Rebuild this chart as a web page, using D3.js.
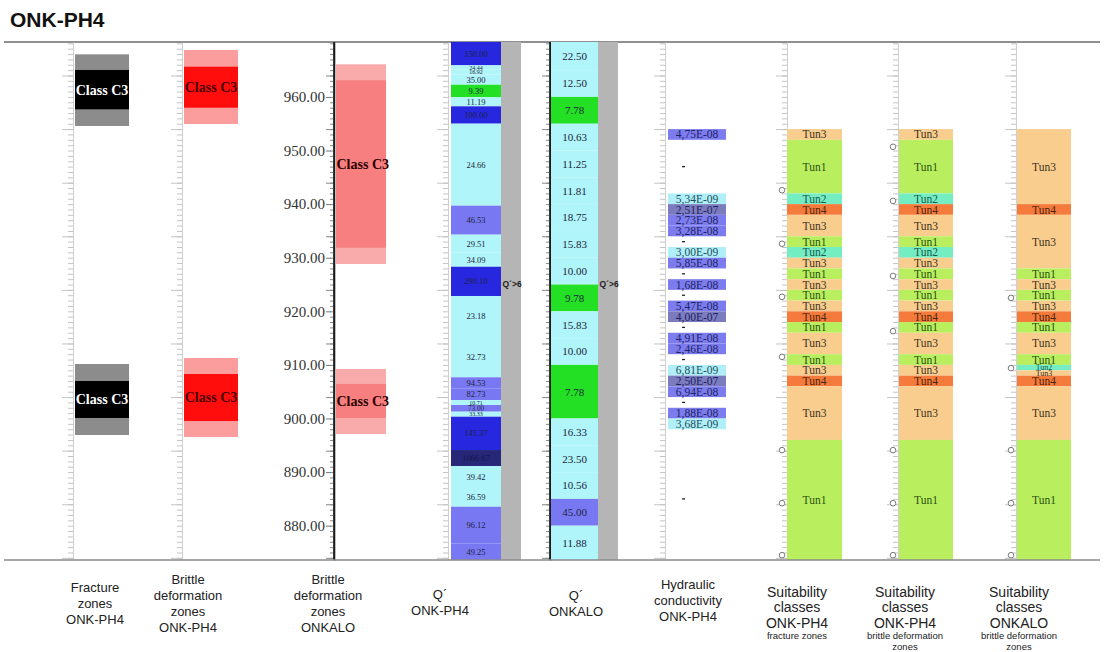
<!DOCTYPE html>
<html>
<head>
<meta charset="utf-8">
<script src="https://cdn.jsdelivr.net/npm/d3@7"></script>
<style>
  body { margin: 0; background: #fff; }
  svg { display: block; }
</style>
</head>
<body>
<svg id="chart" width="1104" height="652"></svg>
<script>
// ---- depth window (m) and labelled depth ticks ----
const depthRange = [873.6, 970.25];
const depthTicks = [960, 950, 940, 930, 920, 910, 900, 890, 880];

// ---- zone intervals [top, bottom] in m ----
const fractureOuter = [[967.95, 954.58], [910.17, 896.92]];
const fractureCore = [[965.03, 957.69], [907.0, 900.1]];
const bdzPh4Outer = [[968.76, 954.95], [911.29, 896.55]];
const bdzPh4Core = [[965.64, 957.99], [908.3, 899.53]];
const bdzOnkaloOuter = [[966.09, 928.83], [909.24, 897.11]];
const bdzOnkaloCore = [[963.1, 931.87], [906.45, 900.1]];
const zoneClass = ["Class C3", "Class C3"];

// ---- Q' ONK-PH4: interval boundaries and values ----
const qPh4Bounds = [970.25, 965.90, 965.1, 964.2, 962.28, 959.93, 958.25, 955.01, 939.71, 934.30,
  930.94, 928.32, 922.86, 915.21, 907.69, 905.64, 903.45, 902.52, 901.27, 900.34,
  894.12, 891.14, 887.03, 883.54, 876.71, 873.6];
const qPh4Values = [150.00, 24.44, 16.92, 35.00, 9.39, 11.19, 100.00, 24.66, 46.53, 29.51,
  34.09, 290.10, 23.18, 32.73, 94.53, 82.73, 10.71, 73.00, 33.33, 145.37,
  1066.67, 39.42, 36.59, 96.12, 49.25];

// ---- Q' ONKALO: interval boundaries and values ----
const qOnkBounds = [970.25, 965, 960, 955, 950, 945, 940, 935, 930, 925, 920, 915, 910, 900,
  895, 890, 885, 880, 873.6];
const qOnkValues = [22.50, 12.50, 7.78, 10.63, 11.25, 11.81, 18.75, 15.83, 10.00, 9.78,
  15.83, 10.00, 7.78, 16.33, 23.50, 10.56, 45.00, 11.88];
const qLimitText = "Q´>6";
const qLimitDepth = 925;

// ---- hydraulic conductivity (2 m sections; null = not measured) ----
const hcTops = [954, 948, 942, 940, 938, 936, 934, 932, 930, 928, 926, 924, 922, 920, 918,
  916, 914, 912, 910, 908, 906, 904, 902, 900, 886];
const hcK = [4.75e-8, null, 5.34e-9, 2.51e-7, 2.73e-8, 3.28e-8, null, 3.00e-9, 5.85e-8, null,
  1.68e-8, null, 5.47e-8, 4.00e-7, null, 4.91e-8, 2.46e-8, null, 6.81e-9, 2.50e-7,
  6.94e-8, null, 1.88e-8, 3.68e-9, null];
const hcSection = 2;

// ---- suitability classes ----
const suitFracBounds = [954, 952, 942, 940, 938, 934, 932, 930, 928, 926, 924, 922, 920, 918,
  916, 912, 910, 908, 906, 896, 873.6];
const suitFracClass = ["Tun3", "Tun1", "Tun2", "Tun4", "Tun3", "Tun1", "Tun2", "Tun3", "Tun1", "Tun3",
  "Tun1", "Tun3", "Tun4", "Tun1", "Tun3", "Tun1", "Tun3", "Tun4", "Tun3", "Tun1"];
const suitBdzBounds = [954, 952, 942, 940, 938, 934, 932, 930, 928, 926, 924, 922, 920, 918,
  916, 912, 910, 908, 906, 896, 873.6];
const suitBdzClass = ["Tun3", "Tun1", "Tun2", "Tun4", "Tun3", "Tun1", "Tun2", "Tun3", "Tun1", "Tun3",
  "Tun1", "Tun3", "Tun4", "Tun1", "Tun3", "Tun1", "Tun3", "Tun4", "Tun3", "Tun1"];
const suitOnkBounds = [954, 940, 938, 928, 926, 924, 922, 920, 918, 916, 912, 910, 909, 908,
  906, 896, 873.6];
const suitOnkClass = ["Tun3", "Tun4", "Tun3", "Tun1", "Tun3", "Tun1", "Tun3", "Tun4", "Tun1", "Tun3",
  "Tun1", "Tun2", "Tun3", "Tun4", "Tun3", "Tun1"];

// sample markers on the suitability logs
const markFrac = [942.6, 932.6, 922.7, 911.5, 894.1, 884.2, 874.5];
const markBdz = [950.7, 940.6, 926.6, 916.3, 894.1, 884.2, 874.5];
const markOnk = [922.5, 909.4, 894.1, 884.2, 874.5];

// ---- column captions ----
const captions = [
  ["Fracture", "zones", "ONK-PH4"],
  ["Brittle", "deformation", "zones", "ONK-PH4"],
  ["Brittle", "deformation", "zones", "ONKALO"],
  ["Q´", "ONK-PH4"],
  ["Q´", "ONKALO"],
  ["Hydraulic", "conductivity", "ONK-PH4"],
  ["Suitability", "classes", "ONK-PH4"],
  ["Suitability", "classes", "ONK-PH4"],
  ["Suitability", "classes", "ONKALO"]
];
const captionNotes = [[], [], [], [], [], [], ["fracture zones"],
  ["brittle deformation", "zones"], ["brittle deformation", "zones"]];

// ================= drawing =================
const SERIF = "'Liberation Serif','Times New Roman',serif";
const SANS = "'Liberation Sans',Arial,Helvetica,sans-serif";

const svg = d3.select("#chart");
const y = d3.scaleLinear().domain(depthRange).range([560, 42]);
const yTop = y(depthRange[1]), yBot = y(depthRange[0]);

// column geometry
const cols = [
  { axis: 73, x0: 75, x1: 129, cx: 95, cy: 587 },
  { axis: 182, x0: 184, x1: 238, cx: 188, cy: 579 },
  { axis: 334, x0: 336, x1: 386, cx: 328, cy: 579 },
  { axis: 448, x0: 451, x1: 501, cx: 440, cy: 594 },
  { axis: 550, x0: 551, x1: 598, cx: 576, cy: 595 },
  { axis: 665, x0: 668, x1: 726, cx: 688, cy: 584 },
  { axis: 787, x0: 787, x1: 842, cx: 797, cy: 592 },
  { axis: 898, x0: 899, x1: 953, cx: 905, cy: 592 },
  { axis: 1016, x0: 1017, x1: 1071, cx: 1019, cy: 592 }
];

const minorTicks = d3.range(874, 971, 1);
const majorTicks = d3.range(874, 971, 10);

// title
svg.append("text")
  .attr("x", 10).attr("y", 27)
  .attr("font-family", SANS).attr("font-weight", "bold").attr("font-size", 21)
  .attr("fill", "#111").text("ONK-PH4");

// frame line at the top of the logs
svg.append("line").attr("x1", 4).attr("x2", 1100).attr("y1", yTop).attr("y2", yTop)
  .attr("stroke", "#6a6a6a").attr("stroke-width", 1.3);

// rulers
function ruler(x, dark) {
  const g = svg.append("g").attr("transform", `translate(${x},0)`);
  g.append("g").call(d3.axisLeft(y).tickValues(minorTicks).tickSize(dark ? 4 : 5).tickSizeOuter(0).tickFormat(""))
    .call(a => a.selectAll(".tick line").attr("stroke", dark ? "#888" : "#c4c4c4"))
    .call(a => a.select(".domain").attr("stroke", dark ? "#222" : "#cfcfcf").attr("stroke-width", dark ? 1.6 : 1));
  g.append("g").call(d3.axisLeft(y).tickValues(majorTicks).tickSize(dark ? 8 : 11).tickSizeOuter(0).tickFormat(""))
    .call(a => a.selectAll(".tick line").attr("stroke", dark ? "#888" : "#c4c4c4"))
    .call(a => a.select(".domain").remove());
  return g;
}
cols.forEach((c, i) => ruler(c.axis, i === 2 || i === 4));

// labelled depth axis
svg.append("g").attr("transform", "translate(331,0)")
  .call(d3.axisLeft(y).tickValues(depthTicks).tickSize(5).tickPadding(1).tickFormat(d3.format(".2f")))
  .call(a => a.select(".domain").remove())
  .call(a => a.selectAll(".tick line").attr("stroke", "#777"))
  .call(a => a.selectAll(".tick text").attr("font-family", SERIF).attr("font-size", 15).attr("fill", "#333"));

// ---- zone columns ----
function zoneColumn(c, outer, core, outerFill, coreFill, textFill, anchor) {
  const g = svg.append("g");
  g.selectAll("rect.outer").data(outer).join("rect").attr("class", "outer")
    .attr("x", c.x0).attr("width", c.x1 - c.x0)
    .attr("y", d => y(d[0])).attr("height", d => y(d[1]) - y(d[0]))
    .attr("fill", outerFill);
  g.selectAll("rect.core").data(core).join("rect").attr("class", "core")
    .attr("x", c.x0).attr("width", c.x1 - c.x0)
    .attr("y", d => y(d[0])).attr("height", d => y(d[1]) - y(d[0]))
    .attr("fill", coreFill);
  g.selectAll("text").data(core).join("text")
    .attr("x", anchor === "start" ? c.x0 + 0.5 : (c.x0 + c.x1) / 2)
    .attr("y", d => y((d[0] + d[1]) / 2)).attr("dy", "0.35em")
    .attr("text-anchor", anchor)
    .attr("font-family", SERIF).attr("font-weight", "bold").attr("font-size", 14)
    .attr("fill", textFill)
    .text((d, i) => zoneClass[i]);
}
zoneColumn(cols[0], fractureOuter, fractureCore, "#8c8c8c", "#000000", "#ffffff", "middle");
zoneColumn(cols[1], bdzPh4Outer, bdzPh4Core, "#fb9d9d", "#ff0d0d", "#4a0000", "middle");
zoneColumn(cols[2], bdzOnkaloOuter, bdzOnkaloCore, "#f9abab", "#f77f7f", "#2a0000", "start");

// ---- Q' columns ----
const qColour = v => v < 10 ? "#24e024" : v < 40 ? "#b0f5f9" : v < 100 ? "#7878f2" : v < 1000 ? "#2727e0" : "#27277a";

function qColumn(c, bounds, values, fontSize) {
  const g = svg.append("g");
  // limit strip
  g.append("rect").attr("x", c.x1).attr("width", 20).attr("y", yTop).attr("height", yBot - yTop)
    .attr("fill", "#b5b5b5");
  const segs = d3.pairs(bounds).map((p, i) => ({ top: p[0], bot: p[1], v: values[i] }));
  g.selectAll("rect.seg").data(segs).join("rect").attr("class", "seg")
    .attr("x", c.x0).attr("width", c.x1 - c.x0)
    .attr("y", d => y(d.top)).attr("height", d => y(d.bot) - y(d.top))
    .attr("fill", d => qColour(d.v));
  g.selectAll("text.val").data(segs).join("text").attr("class", "val")
    .attr("x", (c.x0 + c.x1) / 2).attr("y", d => y((d.top + d.bot) / 2)).attr("dy", "0.35em")
    .attr("text-anchor", "middle")
    .attr("font-family", SERIF)
    .attr("font-size", d => Math.min(fontSize, Math.max(6, y(d.bot) - y(d.top) + 0.5)))
    .attr("fill", d => d.v >= 1000 ? "#15154a" : "#1b2440")
    .text(d => d3.format(".2f")(d.v));
  g.append("text").attr("x", c.x1 + 1.5).attr("y", y(qLimitDepth)).attr("dy", "0.35em")
    .attr("font-family", SANS).attr("font-weight", "bold").attr("font-size", 8.5).attr("fill", "#222")
    .text(qLimitText);
}
qColumn(cols[3], qPh4Bounds, qPh4Values, 8.5);
qColumn(cols[4], qOnkBounds, qOnkValues, 11);

// black depth lines beside the BDZ ONKALO and Q' ONKALO columns
[cols[2].axis, cols[4].axis].forEach(x => {
  svg.append("line").attr("x1", x).attr("x2", x).attr("y1", yTop).attr("y2", yBot)
    .attr("stroke", "#1a1a1a").attr("stroke-width", 1.6);
});

// ---- hydraulic conductivity ----
const hcFormat = k => {
  const [m, e] = k.toExponential(2).split("e");
  const n = Math.abs(+e);
  return m.replace(".", ",") + "E" + (+e < 0 ? "-" : "+") + String(n).padStart(2, "0");
};
const hcColour = k => k < 1e-8 ? "#b0eff7" : k < 1e-7 ? "#7c7cef" : "#7b7bbd";
const hc = hcTops.map((t, i) => ({ top: t, bot: t - hcSection, k: hcK[i] }));
const hcG = svg.append("g");
const c6 = cols[5];
hcG.selectAll("rect").data(hc.filter(d => d.k !== null)).join("rect")
  .attr("x", c6.x0).attr("width", c6.x1 - c6.x0)
  .attr("y", d => y(d.top)).attr("height", d => y(d.bot) - y(d.top))
  .attr("fill", d => hcColour(d.k));
hcG.selectAll("text").data(hc.filter(d => d.k !== null)).join("text")
  .attr("x", (c6.x0 + c6.x1) / 2).attr("y", d => y((d.top + d.bot) / 2)).attr("dy", "0.35em")
  .attr("text-anchor", "middle").attr("font-family", SERIF).attr("font-size", 11.5)
  .attr("fill", d => d.k < 1e-8 ? "#1d4f60" : "#1c2466")
  .text(d => hcFormat(d.k));
hcG.selectAll("line").data(hc.filter(d => d.k === null)).join("line")
  .attr("x1", c6.x0 + 14).attr("x2", c6.x0 + 17)
  .attr("y1", d => y((d.top + d.bot) / 2)).attr("y2", d => y((d.top + d.bot) / 2))
  .attr("stroke", "#222").attr("stroke-width", 1.3);

// ---- suitability columns ----
const suitFill = { Tun1: "#b9ef5f", Tun2: "#74edc2", Tun3: "#f9cd8e", Tun4: "#f47b3b" };
const suitText = { Tun1: "#2b5210", Tun2: "#185a52", Tun3: "#40331e", Tun4: "#4e2410" };

function suitColumn(c, bounds, classes, marks) {
  const g = svg.append("g");
  const segs = d3.pairs(bounds).map((p, i) => ({ top: p[0], bot: p[1], cls: classes[i] }));
  g.selectAll("rect").data(segs).join("rect")
    .attr("x", c.x0).attr("width", c.x1 - c.x0)
    .attr("y", d => y(d.top)).attr("height", d => y(d.bot) - y(d.top))
    .attr("fill", d => suitFill[d.cls]);
  g.selectAll("text").data(segs).join("text")
    .attr("x", (c.x0 + c.x1) / 2).attr("y", d => y((d.top + d.bot) / 2)).attr("dy", "0.35em")
    .attr("text-anchor", "middle").attr("font-family", SERIF)
    .attr("font-size", d => Math.min(11.5, Math.max(8, y(d.bot) - y(d.top) + 2)))
    .attr("fill", d => suitText[d.cls])
    .text(d => d.cls);
  g.selectAll("circle").data(marks).join("circle")
    .attr("cx", c.axis - 5).attr("cy", d => y(d)).attr("r", 2.8)
    .attr("fill", "#fff").attr("stroke", "#7a7a7a").attr("stroke-width", 1);
}
suitColumn(cols[6], suitFracBounds, suitFracClass, markFrac);
suitColumn(cols[7], suitBdzBounds, suitBdzClass, markBdz);
suitColumn(cols[8], suitOnkBounds, suitOnkClass, markOnk);

// bottom frame line
svg.append("line").attr("x1", 4).attr("x2", 1100).attr("y1", yBot).attr("y2", yBot)
  .attr("stroke", "#8a8a8a").attr("stroke-width", 1.6);

// ---- captions ----
cols.forEach((c, i) => {
  const big = i >= 6 ? 14 : 13;
  const step = i >= 6 ? 15.5 : 16;
  const t = svg.append("text").attr("font-family", SANS).attr("fill", "#222").attr("text-anchor", "middle");
  captions[i].forEach((line, j) => {
    t.append("tspan").attr("x", c.cx).attr("y", c.cy + j * step).attr("dy", "0.35em")
      .attr("font-size", big).text(line);
  });
  captionNotes[i].forEach((line, j) => {
    t.append("tspan").attr("x", c.cx).attr("y", 636 + j * 10.5)
      .attr("dy", "0.35em").attr("font-size", 9.5).text(line);
  });
});
</script>
</body>
</html>
